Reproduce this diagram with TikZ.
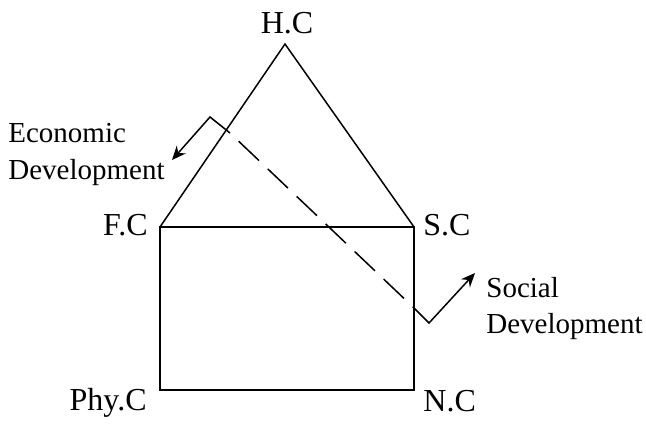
\documentclass[tikz,border=0pt]{standalone}
\usepackage{fontspec}
\setmainfont{Liberation Serif}
\usetikzlibrary{arrows.meta, positioning}

\begin{document}
\begin{tikzpicture}[
    x=0.5pt, y=-0.5pt,
    lbl/.style={font=\fontsize{14.5}{18}\selectfont, inner sep=0pt},
    corner/.style={font=\fontsize{16}{19}\selectfont, inner sep=0pt},
    edge/.style={line width=0.75pt},
    arr/.style={-{Stealth[length=7pt, width=6pt]}, line width=0.75pt},
]
\useasboundingbox (0,0) rectangle (646,423);

% corners of the house
\coordinate (hc) at (285,44);
\coordinate (fc) at (160,227);
\coordinate (sc) at (414,227);
\coordinate (phyc) at (160,390);
\coordinate (nc) at (414,390);

% corner labels
\node[corner, anchor=base] (hclbl) at (287,33) {H.C};
\node[corner, anchor=base east] (fclbl) at (148,235) {F.C};
\node[corner, anchor=base west] (sclbl) at (423,235) {S.C};
\node[corner, anchor=base east] (phyclbl) at (147,410) {Phy.C};
\node[corner, anchor=base west] (nclbl) at (423,411) {N.C};

% side labels
\node[lbl, anchor=base west] (econ1) at (8,142) {Economic};
\node[lbl, anchor=base west] (econ2) at (8,179) {Development};
\node[lbl, anchor=base west] (soc1) at (486,297) {Social};
\node[lbl, anchor=base west] (soc2) at (486,333) {Development};

% triangle and box
\draw[edge] (fc) -- (hc) -- (sc);
\draw[edge] (fc) -- (sc) -- (nc) -- (phyc) -- cycle;

% development line
\coordinate (dstart) at (230,133);
\coordinate (dend) at (413,307);
\draw[edge, dash pattern=on 14pt off 6pt, dash phase=14pt] (dstart) -- (dend);

% bent arrows
\coordinate (ebend) at (210,117);
\coordinate (etip) at (172,160);
\coordinate (sbend) at (429,323);
\coordinate (stip) at (475,273);
\draw[arr] (dstart) -- (ebend) -- (etip);
\draw[arr] (dend) -- (sbend) -- (stip);

\end{tikzpicture}
\end{document}
